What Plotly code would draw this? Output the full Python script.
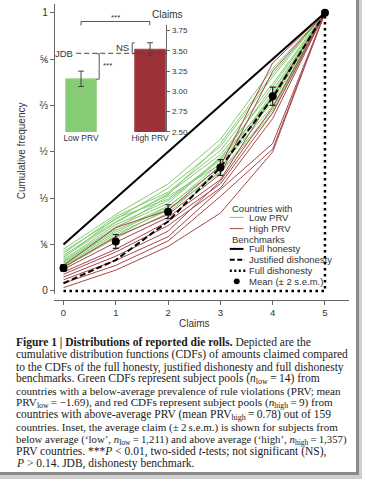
import plotly.graph_objects as go

W, H = 365, 484


def px(x):
    return x / W


def py(y):
    return 1 - y / H


# ---------------- data ----------------
claims = [0, 1, 2, 3, 4, 5]
y_tickvals = [0, 1 / 6, 1 / 3, 1 / 2, 2 / 3, 5 / 6, 1]
y_ticktext = ["0", "⅙", "⅓", "½", "⅔", "⅚", "1"]

low_prv_cdfs = [
    [0.150, 0.275, 0.385, 0.545, 0.800, 1],
    [0.142, 0.258, 0.370, 0.520, 0.770, 1],
    [0.135, 0.268, 0.355, 0.505, 0.745, 1],
    [0.128, 0.250, 0.345, 0.530, 0.780, 1],
    [0.122, 0.245, 0.350, 0.490, 0.720, 1],
    [0.118, 0.262, 0.330, 0.475, 0.735, 1],
    [0.112, 0.238, 0.325, 0.470, 0.700, 1],
    [0.108, 0.230, 0.315, 0.480, 0.690, 1],
    [0.104, 0.224, 0.340, 0.455, 0.710, 1],
    [0.100, 0.218, 0.305, 0.445, 0.665, 1],
    [0.096, 0.212, 0.300, 0.460, 0.680, 1],
    [0.092, 0.205, 0.290, 0.430, 0.650, 1],
    [0.088, 0.198, 0.295, 0.425, 0.640, 1],
    [0.084, 0.190, 0.280, 0.440, 0.700, 1],
]
high_prv_cdfs = [
    [0.092, 0.228, 0.290, 0.450, 0.820, 1],
    [0.085, 0.195, 0.275, 0.420, 0.790, 1],
    [0.078, 0.175, 0.265, 0.400, 0.700, 1],
    [0.068, 0.150, 0.250, 0.385, 0.640, 1],
    [0.060, 0.140, 0.235, 0.370, 0.620, 1],
    [0.050, 0.125, 0.215, 0.395, 0.660, 1],
    [0.040, 0.110, 0.195, 0.365, 0.530, 1],
    [0.028, 0.092, 0.180, 0.340, 0.510, 1],
    [0.012, 0.075, 0.160, 0.280, 0.500, 1],
]
full_honesty = [1 / 6, 2 / 6, 3 / 6, 4 / 6, 5 / 6, 1]
justified_dishonesty = [1 / 36, 4 / 36, 9 / 36, 16 / 36, 25 / 36, 1]
full_dishonesty = [0, 0, 0, 0, 0, 1]
mean_cdf = [0.083, 0.178, 0.285, 0.444, 0.700, 1.0]
mean_err = [0.012, 0.025, 0.025, 0.028, 0.033, 0.0]

inset_groups = ["Low PRV", "High PRV"]
inset_pos = [0, 1]
avg_claim = [3.155, 3.52]
avg_claim_err = [0.095, 0.08]
jdb_claim = 3.47
inset_ticks = [2.5, 2.75, 3.0, 3.25, 3.5, 3.75]

T = "\u2009"  # thin space
caption_lines = [
    "<b>Figure 1 | Distributions of reported die rolls.</b> Depicted are the",
    "cumulative distribution functions (CDFs) of amounts claimed compared",
    "to the CDFs of the full honesty, justified dishonesty and full dishonesty",
    f"benchmarks. Green CDFs represent subject pools (<i>n</i><sub>low</sub>{T}={T}14) from",
    "countries with a below-average prevalence of rule violations (PRV; mean",
    f"PRV<sub>low</sub>{T}={T}−1.69), and red CDFs represent subject pools (<i>n</i><sub>high</sub>{T}={T}9) from",
    f"countries with above-average PRV (mean PRV<sub>high</sub>{T}={T}0.78) out of 159",
    f"countries. Inset, the average claim (±{T}2{T}s.e.m.) is shown for subjects from",
    f"below average (‘low’, <i>n</i><sub>low</sub>{T}={T}1,211) and above average (‘high’, <i>n</i><sub>high</sub>{T}={T}1,357)",
    "PRV countries. ***<i>P</i> &lt; 0.01, two-sided <i>t</i>-tests; not significant (NS),",
    "<i>P</i> &gt; 0.14. JDB, dishonesty benchmark.",
]
caption_sizes = [11.5, 11.5, 11.5, 11.5, 11.1, 11.2, 11.5, 11.0, 10.8, 11.5, 11.5]

GREEN = "#86cc74"
RED = "#a4484c"
SANS = "Liberation Sans, Arial, sans-serif"
SERIF = "Liberation Serif, Times New Roman, serif"
TXT = "#333333"

fig = go.Figure()

for cdf in low_prv_cdfs:
    fig.add_trace(go.Scatter(x=claims, y=cdf, mode="lines",
                             line=dict(color=GREEN, width=1), showlegend=False,
                             xaxis="x", yaxis="y"))
for cdf in high_prv_cdfs:
    fig.add_trace(go.Scatter(x=claims, y=cdf, mode="lines",
                             line=dict(color=RED, width=1), showlegend=False,
                             xaxis="x", yaxis="y"))

fig.add_trace(go.Scatter(x=claims, y=full_honesty, mode="lines",
                         line=dict(color="black", width=2), showlegend=False))
fig.add_trace(go.Scatter(x=claims, y=justified_dishonesty, mode="lines",
                         line=dict(color="black", width=2, dash="6px,3px"), showlegend=False))
fig.add_trace(go.Scatter(x=claims, y=full_dishonesty, mode="lines", line_shape="hv",
                         line=dict(color="black", width=2.5, dash="2.5px,3.5px"), showlegend=False))
fig.add_trace(go.Scatter(x=claims, y=mean_cdf, mode="markers",
                         marker=dict(color="black", size=8),
                         error_y=dict(type="data", array=mean_err, color="#222",
                                      thickness=1.2, width=3),
                         showlegend=False))

# inset
fig.add_trace(go.Bar(x=inset_pos, y=avg_claim, width=0.445,
                     marker=dict(color=[GREEN, "#9c3238"],
                                 line=dict(color=["#9ad98a", "#b2474d"], width=1)),
                     error_y=dict(type="data", array=avg_claim_err, color="#444",
                                  thickness=1, width=3),
                     xaxis="x2", yaxis="y2", showlegend=False))
fig.add_trace(go.Scatter(x=[-0.07, 1.2356], y=[jdb_claim, jdb_claim], mode="lines",
                         line=dict(color="#444", width=1, dash="5px,3px"),
                         xaxis="x2", yaxis="y2", showlegend=False, cliponaxis=False))

shapes = []
annotations = []


def line(x0, y0, x1, y1, color="#555", width=1, dash=None):
    d = dict(type="line", xref="paper", yref="paper",
             x0=px(x0), y0=py(y0), x1=px(x1), y1=py(y1),
             line=dict(color=color, width=width))
    if dash:
        d["line"]["dash"] = dash
    shapes.append(d)


def text(x, y, s, size=9.5, xanchor="left", color=TXT, font=SANS, **kw):
    annotations.append(dict(xref="paper", yref="paper", x=px(x), y=py(y), text=s,
                            showarrow=False, xanchor=xanchor, yanchor="middle",
                            font=dict(size=size, color=color, family=font), **kw))


# inset brackets & labels
line(81.7, 21.7, 151, 21.7, "#555")
line(81.7, 21.7, 81.7, 25.7, "#555")
line(151, 21.7, 151, 25.7, "#555")
text(116, 17.5, "***", size=8, xanchor="center")
text(168.7, 14.5, "Claims", size=10, xanchor="center")
line(100, 54.3, 100, 80, "#555")
line(97.5, 54.3, 100, 54.3, "#555")
line(97, 80, 100, 80, "#555")
text(101.5, 66, "***", size=8)
line(133.3, 43.3, 133.3, 54.3, "#555")
line(133.3, 43.3, 135.8, 43.3, "#555")
line(133.3, 54.3, 135.8, 54.3, "#555")
text(124, 48, "NS", size=9.5, xanchor="center")
text(75.5, 54, "JDB", size=9.5, xanchor="right")

# axis titles
text(196, 326.5, "Claims", size=10, xanchor="center")
text(22, 152, "Cumulative frequency", size=10, xanchor="center", textangle=-90)

# legend
text(231.7, 210.5, "Countries with", size=9.5)
line(231.7, 219.7, 245.5, 219.7, GREEN, 1)
text(249.3, 219.7, "Low PRV", size=9.5)
line(231.7, 231, 245.5, 231, RED, 1)
text(249.3, 231, "High PRV", size=9.5)
text(231.7, 241.5, "Benchmarks", size=9.5)
line(231.7, 251.5, 245.5, 251.5, "black", 2)
text(249.3, 251.5, "Full honesty", size=9.5)
line(231.7, 262.5, 247, 262.5, "black", 2, "5px,2.5px")
text(249.3, 262.5, "Justified dishonesty", size=9.5)
line(231.7, 273.5, 248, 273.5, "black", 2.5, "2px,2.5px")
text(249.3, 273.5, "Full dishonesty", size=9.5)
shapes.append(dict(type="circle", xref="paper", yref="paper",
                   x0=px(235.7), x1=px(241.7), y0=py(287.3), y1=py(281.3),
                   fillcolor="black", line=dict(width=0)))
text(249.3, 284.3, "Mean (± 2 s.e.m.)", size=9.5)

# caption
for i, (s, sz) in enumerate(zip(caption_lines, caption_sizes)):
    text(14.5, 346.5 + 12.2 * i, s, size=sz, color="#1a1a1a", font=SERIF)

# card shadow
shapes.append(dict(type="rect", xref="paper", yref="paper", x0=px(359), x1=px(362),
                   y0=py(480), y1=1, fillcolor="#8a8a8a", line=dict(width=0), layer="above"))
shapes.append(dict(type="rect", xref="paper", yref="paper", x0=px(362), x1=1,
                   y0=0, y1=1, fillcolor="#cfcfcf", line=dict(width=0), layer="above"))
shapes.append(dict(type="rect", xref="paper", yref="paper", x0=0, x1=px(362),
                   y0=py(480), y1=py(477), fillcolor="#8a8a8a", line=dict(width=0), layer="above"))
shapes.append(dict(type="rect", xref="paper", yref="paper", x0=0, x1=px(362),
                   y0=0, y1=py(480), fillcolor="#cfcfcf", line=dict(width=0), layer="above"))

fig.update_layout(
    width=W, height=H,
    margin=dict(l=0, r=0, t=0, b=0),
    paper_bgcolor="white", plot_bgcolor="rgba(0,0,0,0)",
    showlegend=False,
    font=dict(family=SANS, color=TXT),
    xaxis=dict(domain=[px(54.3), px(351.7)], range=[-0.184, 5.456],
               anchor="free", position=py(303),
               showline=True, linecolor="#666", linewidth=1,
               ticks="outside", ticklen=4, tickcolor="#666",
               tickvals=claims, ticktext=[str(c) for c in claims],
               tickfont=dict(size=9.5, color=TXT),
               showgrid=False, zeroline=False),
    yaxis=dict(domain=[py(297), py(4)], range=[(294 - 297) / 281, (294 - 4) / 281],
               anchor="free", position=px(54.3),
               showline=True, linecolor="#666", linewidth=1,
               ticks="outside", ticklen=4, tickcolor="#666",
               tickvals=y_tickvals, ticktext=y_ticktext,
               tickfont=dict(size=10, color=TXT),
               showgrid=False, zeroline=False),
    xaxis2=dict(domain=[px(60), px(167.7)], range=[-0.312, 1.2356],
                anchor="y2", showline=False, ticks="",
                tickvals=inset_pos, ticktext=inset_groups,
                tickfont=dict(size=8.5, color=TXT),
                showgrid=False, zeroline=False),
    yaxis2=dict(domain=[py(133.3), py(25)], range=[2.5, 3.822],
                anchor="x2", side="right",
                showline=True, linecolor="#666", linewidth=1,
                ticks="outside", ticklen=3, tickcolor="#666",
                tickvals=inset_ticks, tickformat=".2f",
                tickfont=dict(size=8, color=TXT),
                showgrid=False, zeroline=False),
    shapes=shapes,
    annotations=annotations,
)

fig.write_html("out.html", config={"displayModeBar": False},
               post_script="document.body.style.margin='0px';document.body.style.overflow='hidden';")
